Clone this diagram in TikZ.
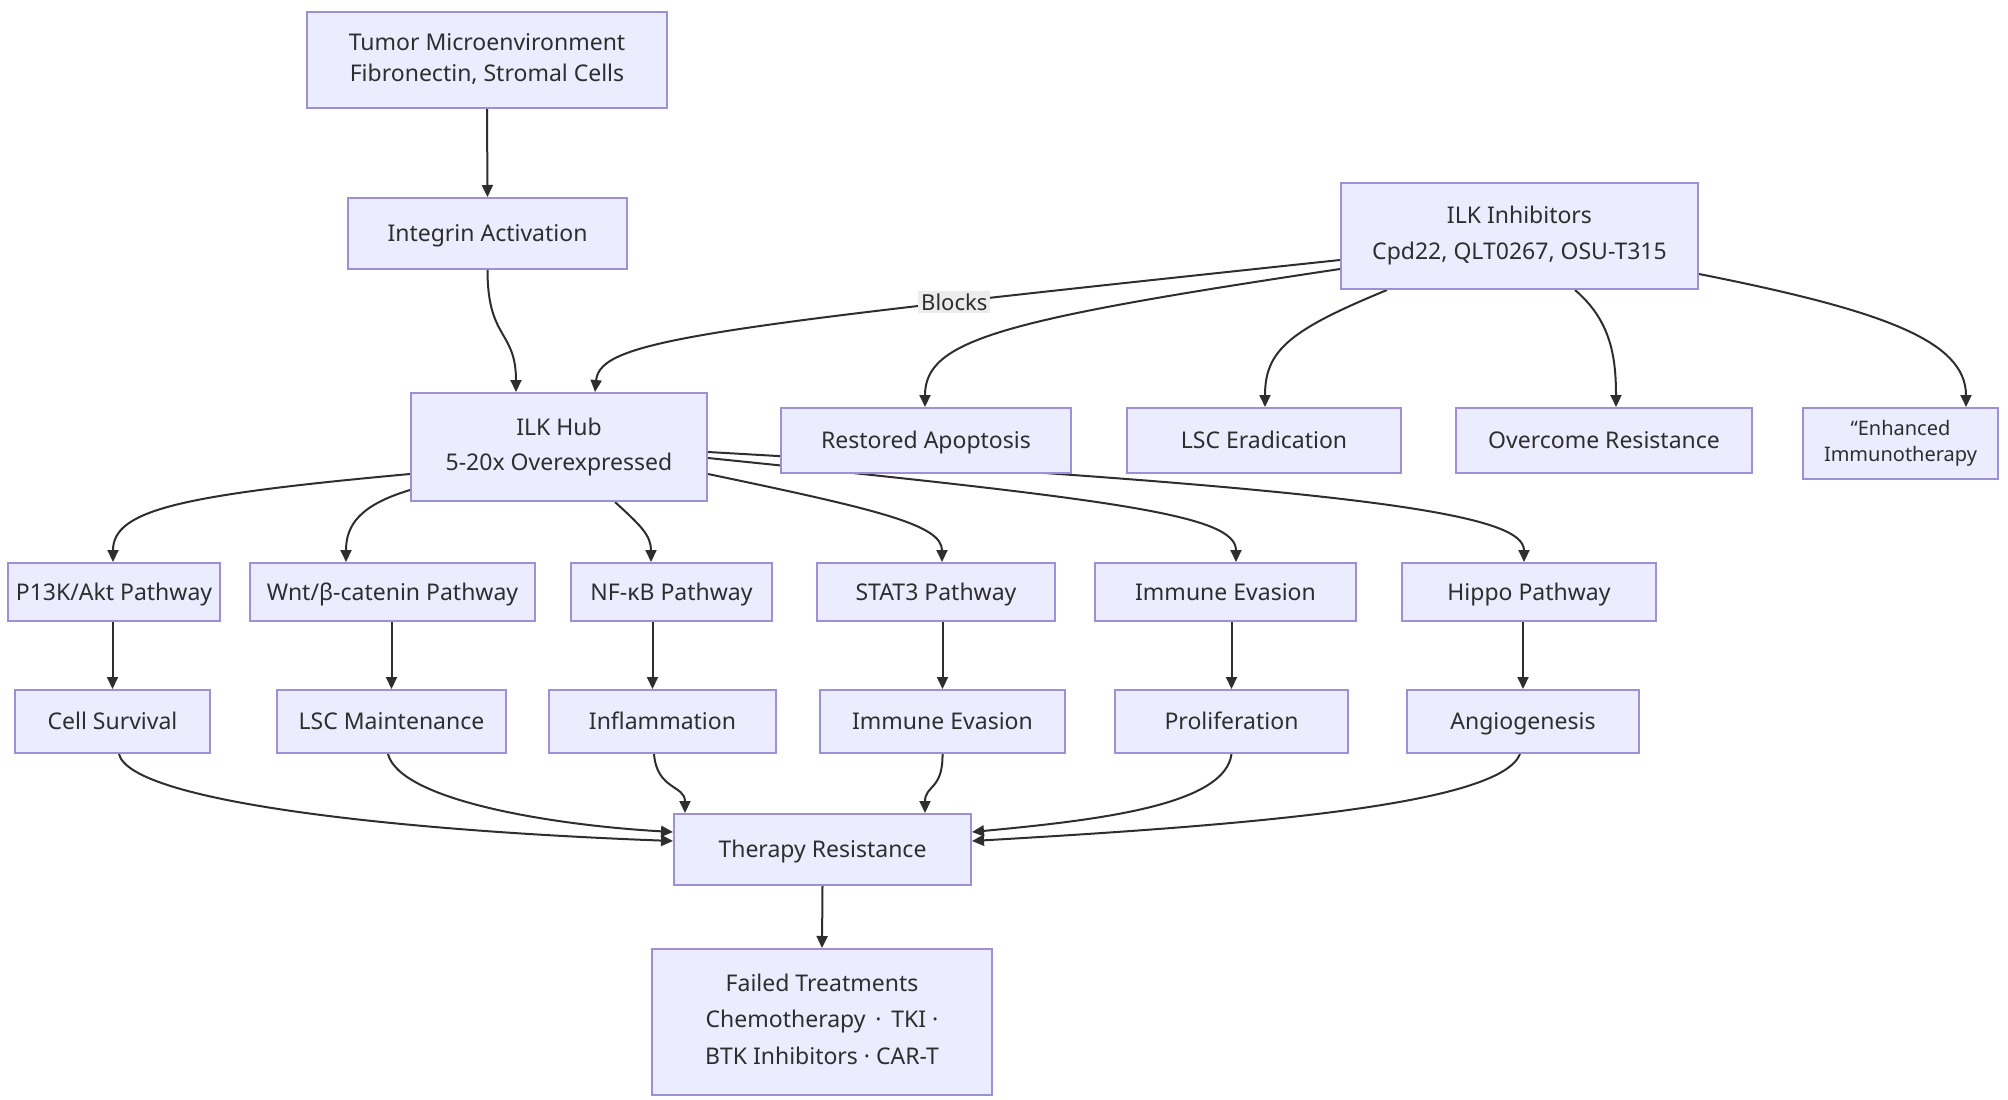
\documentclass[tikz,border=0pt]{standalone}
\usepackage{fontspec}
\setmainfont{Noto Sans}
\usetikzlibrary{arrows.meta}
\pgfdeclarelayer{bg}
\pgfdeclarelayer{paper}
\pgfsetlayers{paper,bg,main}
\definecolor{nfill}{HTML}{ECECFF}
\definecolor{nline}{HTML}{9F8FD6}
\definecolor{ink}{HTML}{2E2E2E}
\definecolor{lblbg}{HTML}{ECECEC}
\begin{document}
\begin{tikzpicture}[x=1pt,y=-1pt,
  box/.style={draw=nline,fill=nfill,line width=2pt,text=ink,align=center,inner sep=0pt,
    font=\fontsize{23}{31}\selectfont, execute at begin node={\vphantom{y}\rule{0pt}{0.94em}}},
  mbox/.style={box, execute at begin node={\vphantom{y}\rule{0pt}{1.1em}}},
  arr/.style={draw=ink,line width=2pt,-{Triangle[length=12pt,width=11pt]}},
  lbl/.style={fill=lblbg,text=ink,inner sep=3pt,font=\fontsize{22}{26}\selectfont},
]
\useasboundingbox (0,0) rectangle (2008,1100);
\begin{pgfonlayer}{paper}
\fill[white] (0,0) rectangle (2008,1100);
\end{pgfonlayer}

% top
\node[mbox,minimum width=360pt,minimum height=96pt] (tme) at (487,60) {Tumor Microenvironment\\Fibronectin, Stromal Cells};
\node[box,minimum width=279pt,minimum height=71pt] (integ) at (487.5,233.5) {Integrin Activation};
\node[mbox,minimum width=357pt,minimum height=106pt,font=\fontsize{23}{36}\selectfont] (inh) at (1519.5,236) {ILK Inhibitors\\Cpd22, QLT0267, OSU-T315};
\node[mbox,minimum width=296pt,minimum height=108pt,font=\fontsize{23}{35}\selectfont] (hub) at (559,447) {ILK Hub\\5-20x Overexpressed};

% inhibitor outcomes
\node[box,minimum width=290pt,minimum height=65pt] (rest) at (926,440.5) {Restored Apoptosis};
\node[box,minimum width=274pt,minimum height=65pt] (lscer) at (1264,440.5) {LSC Eradication};
\node[box,minimum width=296pt,minimum height=65pt] (over) at (1604,440.5) {Overcome Resistance};
\node[box,minimum width=195pt,minimum height=71pt,font=\fontsize{20}{26}\selectfont] (enh) at (1900.5,443.5) {“Enhanced\\Immunotherapy};

% pathways
\node[box,minimum width=212pt,minimum height=58pt] (p13k) at (114,592) {P13K/Akt Pathway};
\node[box,minimum width=285pt,minimum height=58pt] (wnt) at (392.5,592) {Wnt/β-catenin Pathway};
\node[box,minimum width=201pt,minimum height=58pt] (nfkb) at (671.5,592) {NF-κB Pathway};
\node[box,minimum width=238pt,minimum height=58pt] (stat) at (936,592) {STAT3 Pathway};
\node[box,minimum width=261pt,minimum height=58pt] (ie) at (1225.5,592) {Immune Evasion};
\node[box,minimum width=254pt,minimum height=58pt] (hip) at (1529,592) {Hippo Pathway};

% effects
\node[box,minimum width=195pt,minimum height=63pt] (cs) at (112.5,721.5) {Cell Survival};
\node[box,minimum width=229pt,minimum height=63pt] (lscm) at (391.5,721.5) {LSC Maintenance};
\node[box,minimum width=227pt,minimum height=63pt] (inf) at (662.5,721.5) {Inflammation};
\node[box,minimum width=245pt,minimum height=63pt] (ie2) at (942.5,721.5) {Immune Evasion};
\node[box,minimum width=233pt,minimum height=63pt] (prol) at (1231.5,721.5) {Proliferation};
\node[box,minimum width=232pt,minimum height=63pt] (ang) at (1523,721.5) {Angiogenesis};

% bottom
\node[box,minimum width=297pt,minimum height=71pt] (tr) at (822.5,849.5) {Therapy Resistance};
\node[mbox,minimum width=340pt,minimum height=146pt,font=\fontsize{23}{36.5}\selectfont] (ft) at (822,1022) {Failed Treatments\\Chemotherapy \,·\, TKI ·\\BTK Inhibitors · CAR-T};

\begin{pgfonlayer}{bg}
\draw[arr] (tme.south) -- (integ.north);
\draw[arr] (integ.south) .. controls (487.5,340) and (516,330) .. ([xshift=-43pt]hub.north);
\draw[arr] ([yshift=-24pt]inh.west) .. controls (700,328) and (600,340) .. ([xshift=36pt]hub.north)
   node[lbl,pos=0.25] {Blocks};
\draw[arr] ([yshift=-33pt]inh.west) .. controls (1000,320) and (925,340) .. ([xshift=-1pt]rest.north);
\draw[arr] ([xshift=-132.5pt]inh.south) .. controls (1290,330) and (1265,350) .. ([xshift=1pt]lscer.north);
\draw[arr] ([xshift=55.5pt]inh.south) .. controls (1610,320) and (1616,355) .. ([xshift=12pt]over.north);
\draw[arr] ([yshift=-38pt]inh.east) .. controls (1880,310) and (1966,340) .. ([xshift=65.5pt]enh.north);

\draw[arr] ([yshift=-27pt]hub.west) .. controls (180,495) and (113,510) .. ([xshift=-1pt]p13k.north);
\draw[arr] ([yshift=-43pt]hub.west) .. controls (360,505) and (346,525) .. ([xshift=-46.5pt]wnt.north);
\draw[arr] ([xshift=56pt]hub.south) .. controls (640,525) and (651,535) .. ([xshift=-20.5pt]nfkb.north);
\draw[arr] ([yshift=-27pt]hub.east) .. controls (880,510) and (942,525) .. ([xshift=6pt]stat.north);
\draw[arr] ([yshift=-11pt]hub.east) .. controls (1120,500) and (1236,515) .. ([xshift=10.5pt]ie.north);
\draw[arr] ([yshift=-5pt]hub.east) .. controls (1380,490) and (1524,515) .. ([xshift=-5pt]hip.north);

\draw[arr] (cs.north |- p13k.south) -- (cs.north);
\draw[arr] (lscm.north |- wnt.south) -- (lscm.north);
\draw[arr] ([xshift=-10pt]inf.north |- nfkb.south) -- ([xshift=-10pt]inf.north);
\draw[arr] (ie2.north |- stat.south) -- (ie2.north);
\draw[arr] (prol.north |- ie.south) -- (prol.north);
\draw[arr] (ang.north |- hip.south) -- (ang.north);

\draw[arr] ([xshift=6.5pt]cs.south) .. controls (130,800) and (380,830) .. ([yshift=8.5pt]tr.west);
\draw[arr] ([xshift=-3.5pt]lscm.south) .. controls (400,800) and (550,825) .. ([yshift=17.5pt]tr.west);
\draw[arr] ([xshift=-8.5pt]inf.south) .. controls (657,790) and (685,785) .. ([xshift=-137.5pt]tr.north);
\draw[arr] (ie2.south) .. controls (943,790) and (925,785) .. ([xshift=102.5pt]tr.north);
\draw[arr] (prol.south) .. controls (1225,805) and (1100,820) .. ([yshift=17.5pt]tr.east);
\draw[arr] ([xshift=-3pt]ang.south) .. controls (1500,805) and (1250,825) .. ([yshift=8.5pt]tr.east);

\draw[arr] (tr.south) -- (ft.north);
\end{pgfonlayer}
\end{tikzpicture}
\end{document}
